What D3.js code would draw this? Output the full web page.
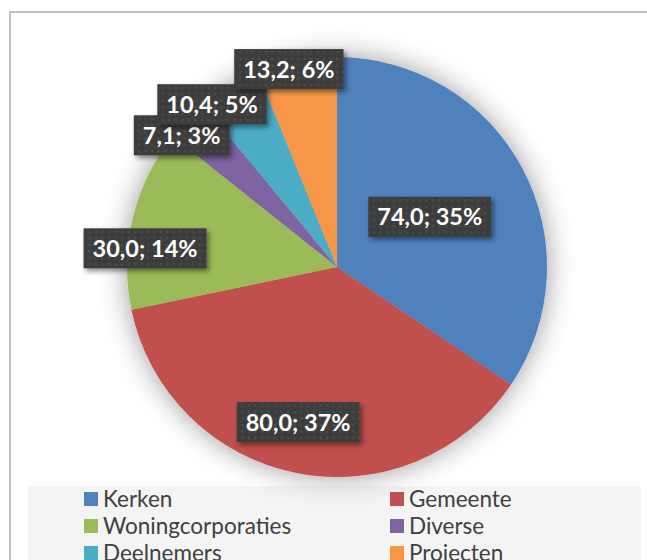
<!DOCTYPE html>
<html>
<head>
<meta charset="utf-8">
<script src="https://cdn.jsdelivr.net/npm/d3@7"></script>
<style>
  body { margin: 0; background: #fff; }
  svg { display: block; }
</style>
</head>
<body>
<div id="container"></div>
<script>
const width = 647;
const height = 560;

// Data
const categories = ["Kerken", "Gemeente", "Woningcorporaties", "Diverse", "Deelnemers", "Projecten"];
const values = [74.0, 80.0, 30.0, 7.1, 10.4, 13.2];
const percents = [35, 37, 14, 3, 5, 6];
const colours = ["#4f81bd", "#c0504d", "#9bbb59", "#8064a2", "#4bacc6", "#f79646"];

// Label placement (radius fraction + nudge), Excel "best fit"-like
const labelRadius = [0.5, 0.76, 0.92, 0.97, 0.975, 0.97];
const labelNudge = [[0, -1], [-8, -1.5], [-4, 26], [-10, 11], [-20, 13], [-9, 2]];

const cx = 337;
const cy = 267;
const radius = 210;

const svg = d3
  .select("#container")
  .append("svg")
  .attr("width", width)
  .attr("height", height);

const defs = svg.append("defs");

// dotted dark texture for the data labels
const pattern = defs
  .append("pattern")
  .attr("id", "dots")
  .attr("width", 6.5)
  .attr("height", 6.5)
  .attr("patternUnits", "userSpaceOnUse");
pattern.append("rect").attr("width", 6.5).attr("height", 6.5).attr("fill", "#3d3d3d");
pattern.append("rect").attr("x", 2).attr("y", 2).attr("width", 2).attr("height", 2).attr("fill", "#505050");

defs
  .append("filter")
  .attr("id", "pieShadow")
  .attr("x", "-20%").attr("y", "-20%").attr("width", "140%").attr("height", "140%")
  .append("feDropShadow")
  .attr("dx", 0).attr("dy", 0).attr("stdDeviation", 14)
  .attr("flood-color", "#000").attr("flood-opacity", 0.4);

defs
  .append("filter")
  .attr("id", "labelShadow")
  .attr("x", "-20%").attr("y", "-30%").attr("width", "150%").attr("height", "180%")
  .append("feDropShadow")
  .attr("dx", 2.5).attr("dy", 3).attr("stdDeviation", 2.5)
  .attr("flood-color", "#000").attr("flood-opacity", 0.45);

// chart frame (cut by the window at right and bottom)
svg
  .append("rect")
  .attr("x", 10)
  .attr("y", 12)
  .attr("width", 700)
  .attr("height", 600)
  .attr("fill", "#fff")
  .attr("stroke", "#c0c0c0")
  .attr("stroke-width", 2);

// legend background
svg
  .append("rect")
  .attr("x", 28)
  .attr("y", 486)
  .attr("width", 613)
  .attr("height", 80)
  .attr("fill", "#f4f4f4");

const pie = d3.pie().sort(null).value((d) => d.value);
const arcs = pie(categories.map((c, i) => ({ name: c, value: values[i], i })));

const arc = d3.arc().innerRadius(0).outerRadius(radius);

const g = svg.append("g").attr("transform", `translate(${cx},${cy})`);

g.append("g")
  .attr("filter", "url(#pieShadow)")
  .selectAll("path")
  .data(arcs)
  .enter()
  .append("path")
  .attr("d", arc)
  .attr("fill", (d) => colours[d.data.i]);

// data labels
const fmt = (v) => v.toFixed(1).replace(".", ",");
const labels = g
  .selectAll("g.label")
  .data(arcs)
  .enter()
  .append("g")
  .attr("class", "label")
  .attr("transform", (d) => {
    const r = radius * labelRadius[d.data.i];
    const [x, y] = d3.arc().innerRadius(r).outerRadius(r).centroid(d);
    const [dx, dy] = labelNudge[d.data.i];
    return `translate(${x + dx},${y + dy})`;
  });

labels.each(function (d) {
  const lg = d3.select(this);
  const box = lg.append("rect").attr("fill", "url(#dots)").attr("filter", "url(#labelShadow)");
  const t = lg
    .append("text")
    .attr("text-anchor", "middle")
    .attr("dy", "0.36em")
    .attr("fill", "#fff")
    .style("font-family", "Lato, 'Open Sans', sans-serif")
    .style("font-weight", 700)
    .style("font-size", "23.5px")
    .text(`${fmt(d.data.value)}; ${percents[d.data.i]}%`);
  const w = t.node().getComputedTextLength() + 18;
  box.attr("x", -w / 2).attr("y", -20).attr("width", w).attr("height", 40);
});

// legend
const legendX = d3.scaleOrdinal().domain([0, 1]).range([84, 390]);
const legendY = d3.scaleLinear().domain([0, 1]).range([499, 526]);

const legend = svg
  .append("g")
  .selectAll("g")
  .data(categories)
  .enter()
  .append("g")
  .attr("transform", (d, i) => `translate(${legendX(i % 2)},${legendY(Math.floor(i / 2))})`);

legend
  .append("rect")
  .attr("x", 0)
  .attr("y", -7)
  .attr("width", 14)
  .attr("height", 14)
  .attr("fill", (d, i) => colours[i]);

legend
  .append("text")
  .attr("x", 19)
  .attr("dy", "0.36em")
  .attr("fill", "#404040")
  .style("font-family", "Lato, 'Open Sans', sans-serif")
  .style("font-size", "22.5px")
  .text((d) => d);
</script>
</body>
</html>
